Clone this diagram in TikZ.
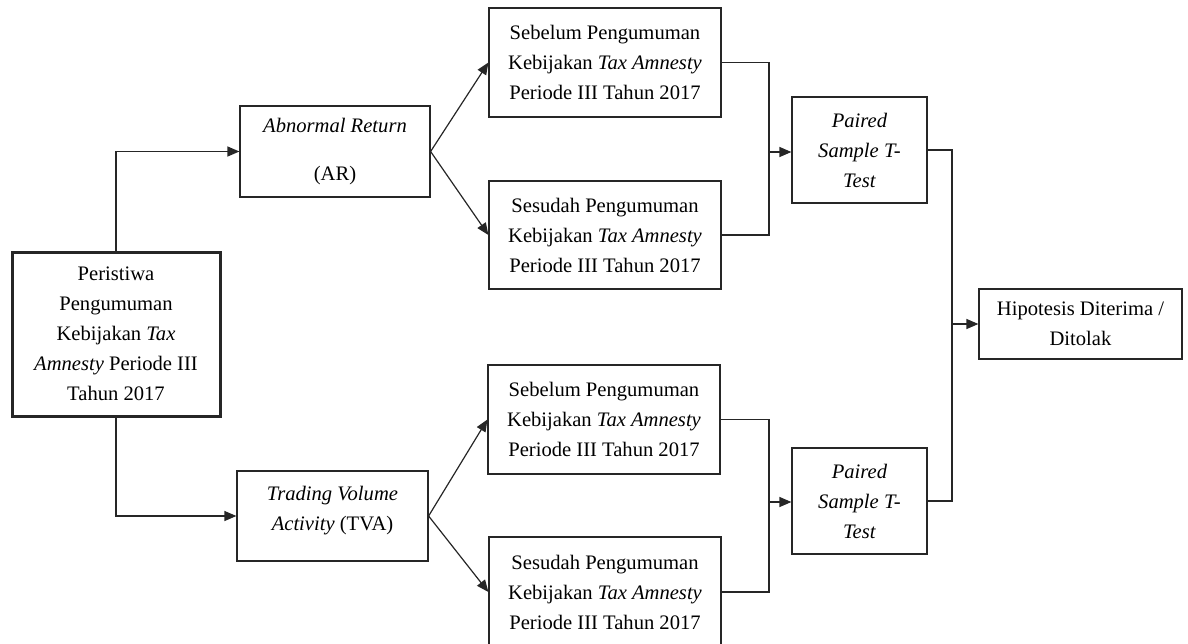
\documentclass[tikz,border=0pt]{standalone}
\usepackage{fontspec}
\setmainfont{Liberation Serif}
\usetikzlibrary{arrows.meta}

\tikzset{
  box/.style={draw=black!85, line width=0.6pt, inner sep=0pt, align=center,
    font=\fontsize{10.3}{15}\selectfont},
  link/.style={draw=black!85, line width=0.6pt},
  arr/.style={link, -{Triangle[length=6pt,width=5pt]}}
}

\begin{document}
\begin{tikzpicture}[x=0.5pt,y=-0.5pt]
\useasboundingbox (0,0) rectangle (1188,643);
% boxes
\node[box, line width=1.5pt, minimum width=104pt, minimum height=82pt] (event) at (116,334)
  {Peristiwa\\Pengumuman\\Kebijakan \textit{Tax}\\\textit{Amnesty} Periode III\\Tahun 2017};
\node[box, minimum width=95pt, minimum height=45.5pt] (ar) at (335,151.5)
  {\textit{Abnormal Return}\\[9pt](AR)};
\node[box, minimum width=95.5pt, minimum height=45pt] (tva) at (332.5,516)
  {\textit{Trading Volume}\\\textit{Activity} (TVA)\\[-7pt]\mbox{}};
\node[box, minimum width=116pt, minimum height=54.5pt] (sb1) at (605,62.5)
  {Sebelum Pengumuman\\Kebijakan \textit{Tax Amnesty}\\Periode III Tahun 2017};
\node[box, minimum width=116pt, minimum height=54pt] (sd1) at (605,235)
  {Sesudah Pengumuman\\Kebijakan \textit{Tax Amnesty}\\Periode III Tahun 2017};
\node[box, minimum width=116pt, minimum height=54.5pt] (sb2) at (604,419.5)
  {Sebelum Pengumuman\\Kebijakan \textit{Tax Amnesty}\\Periode III Tahun 2017};
\node[box, minimum width=116pt, minimum height=55pt] (sd2) at (605,592)
  {Sesudah Pengumuman\\Kebijakan \textit{Tax Amnesty}\\Periode III Tahun 2017};
\node[box, minimum width=67.5pt, minimum height=53pt] (pt1) at (859.5,150)
  {\textit{Paired}\\\textit{Sample T-}\\\textit{Test}};
\node[box, minimum width=67.5pt, minimum height=53pt] (pt2) at (859.5,501)
  {\textit{Paired}\\\textit{Sample T-}\\\textit{Test}};
\node[box, minimum width=101.5pt, minimum height=35pt] (hip) at (1080.5,324)
  {Hipotesis Diterima /\\Ditolak};
% junctions
\coordinate (j1) at (769,152);
\coordinate (j2) at (769,502);
\coordinate (j3) at (952,324);
% connectors
\draw[arr] (event.north) |- (ar.west);
\draw[arr] (event.south) |- (tva.west);
\draw[arr] (ar.east) -- (sb1.west);
\draw[arr] (ar.east) -- (sd1.west);
\draw[arr] (tva.east) -- (sb2.west);
\draw[arr] (tva.east) -- (sd2.west);
\draw[link] (sb1.east) -| (j1) |- (sd1.east);
\draw[link] (sb2.east) -| (j2) |- (sd2.east);
\draw[arr] (j1) -- (j1 -| pt1.west);
\draw[arr] (j2) -- (j2 -| pt2.west);
\draw[link] (pt1.east) -| (j3) |- (pt2.east);
\draw[arr] (j3) -- (hip.west);
\end{tikzpicture}
\end{document}
